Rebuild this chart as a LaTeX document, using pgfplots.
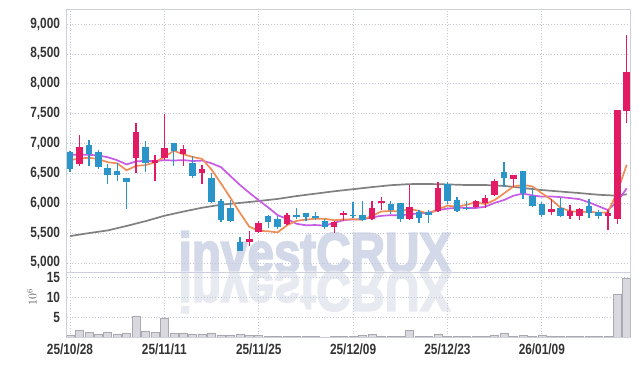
\documentclass[border=0pt]{standalone}
\usepackage{fontspec}
\setmainfont{Liberation Sans}[FakeStretch=0.8]
\newfontfamily\wmfont{Liberation Sans Bold}[FakeBold=3.5]
\usepackage{graphicx}
\usepackage{pgfplots}
\usepackage{pgfplotstable}
\pgfplotsset{compat=1.18}
\definecolor{upc}{HTML}{E31B64}
\definecolor{dnc}{HTML}{2B94C9}
\definecolor{ma5c}{HTML}{F08C55}
\definecolor{ma10c}{HTML}{C65BE6}
\definecolor{ma60c}{HTML}{808080}
\definecolor{gridc}{HTML}{C4C7D6}
\definecolor{framec}{HTML}{CDD0DA}
\definecolor{wmc}{HTML}{D3D9E8}
\definecolor{wmr}{HTML}{E8EAF1}
\definecolor{volf}{HTML}{D8D8DE}
\definecolor{vold}{HTML}{A9A9B2}

\pgfplotstableread{
i o h l c
1 6650 7150 6630 6940
7 6760 7350 6500 7190
9 6680 6815 6370 6720
10 6750 7500 6730 6920
12 6830 6980 6630 6900
14 6505 6635 6325 6565
19 5350 5530 5280 5400
20 5515 5700 5500 5670
23 5645 5835 5630 5795
28 5600 5700 5505 5680
29 5795 5870 5695 5835
32 5740 6045 5725 5925
33 6000 6100 5880 6045
36 5735 6300 5725 5945
39 5870 6355 5850 6260
43 5945 6060 5925 6030
44 6000 6140 5925 6090
45 6130 6400 6115 6380
47 6410 6475 6270 6470
51 5855 6070 5795 5900
53 5790 5965 5735 5870
54 5790 5920 5725 5905
57 5790 5880 5550 5840
58 5730 7560 5650 7560
59 7550 8815 7340 8195
}\up

\pgfplotstableread{
i o h l c
0 6850 6870 6530 6570
2 6970 7050 6630 6830
3 6860 6890 6565 6610
4 6590 6650 6330 6480
5 6540 6680 6380 6480
6 6420 6430 5910 6360
8 6935 7040 6515 6680
11 7000 7010 6630 6880
13 6670 6785 6425 6450
15 6415 6510 6005 6020
16 6045 6075 5685 5720
17 5920 6050 5685 5700
18 5350 5440 5195 5200
21 5780 5795 5590 5680
22 5735 5785 5570 5610
24 5810 5925 5735 5770
25 5830 5835 5700 5770
26 5785 5850 5720 5760
27 5710 5740 5570 5600
30 5810 6020 5755 5780
31 5795 6045 5710 5725
34 5990 6030 5825 5880
35 6005 6010 5680 5735
37 5850 5880 5670 5750
38 5850 5880 5670 5805
40 6325 6355 5980 6030
41 6060 6100 5860 5870
42 5925 6045 5890 5900
46 6525 6685 6280 6430
48 6540 6540 6070 6165
49 6120 6260 5945 5960
50 5985 6025 5765 5810
52 5915 6080 5765 5790
55 5955 6065 5745 5840
56 5855 5885 5735 5790
}\down

\pgfplotstableread{
i ma5 ma10
0 6720 6810
1 6750 6810
2 6760 6810
3 6740 6800
4 6686 6770
5 6668 6720
6 6552 6650
7 6624 6700
8 6638 6710
9 6686 6705
10 6774 6721
11 6878 6715
12 6820 6722
13 6774 6706
14 6743 6714
15 6563 6668
16 6331 6604
17 6091 6455
18 5841 6307
19 5608 6175
20 5538 6050
21 5530 5930
22 5512 5801
23 5631 5736
24 5705 5656
25 5725 5631
26 5741 5635
27 5739 5625
28 5716 5673
29 5729 5717
30 5731 5728
31 5724 5732
32 5789 5764
33 5862 5789
34 5871 5800
35 5862 5796
36 5906 5815
37 5871 5830
38 5823 5842
39 5899 5885
40 5958 5910
41 5943 5924
42 5973 5922
43 6018 5920
44 5984 5941
45 6054 6006
46 6166 6054
47 6280 6126
48 6307 6162
49 6281 6132
50 6167 6110
51 6061 6113
52 5925 6102
53 5866 6086
54 5855 6068
55 5861 6014
56 5839 5950
57 5849 5887
58 6187 6026
59 6645 6250
}\ma

\pgfplotstableread{
i v
0 5450
2 5500
4 5545
6 5620
8 5700
10 5790
12 5860
14 5925
16 5975
18 6005
20 6037
22 6072
24 6120
26 6160
28 6200
30 6235
32 6270
34 6302
36 6320
38 6322
40 6315
42 6305
44 6305
46 6290
48 6255
50 6221
52 6195
54 6170
56 6142
58 6126
59 6150
}\maLong

\pgfplotstableread{
i v
0 0.4
1 1.75
2 1.1
3 0.75
4 1.25
5 0.75
6 1.0
7 5.25
8 1.5
9 1.1
10 4.75
11 0.85
12 1.0
13 0.75
14 0.75
15 1.0
16 0.5
17 0.5
18 0.75
19 0.4
20 0.35
21 0.15
22 0.12
23 0.12
24 0.1
25 0.1
26 0.1
27 0.05
28 0.1
29 0.15
30 0.15
31 0.35
32 0.7
33 0.15
34 0.15
35 0.15
36 1.7
37 0.2
38 0.2
39 0.75
40 0.2
41 0.15
42 0.15
43 0.15
44 0.2
45 0.4
46 1.0
47 0.2
48 0.4
49 0.2
50 0.5
51 0.15
52 0.15
53 0.12
54 0.12
55 0.12
56 0.12
57 0.15
58 10.75
59 14.7
}\vol

\begin{document}
\begin{tikzpicture}
\useasboundingbox (0bp,0bp) rectangle (639bp,366bp);
% watermark
\node[anchor=base west, inner sep=0pt, text=wmc] at (178.5bp,94bp)
  {\scalebox{0.85}[1]{\fontsize{56bp}{56bp}\wmfont investCRUX}};
\node[anchor=base west, inner sep=0pt, text=wmr] at (178.5bp,94bp)
  {\scalebox{0.85}[-1]{\fontsize{56bp}{56bp}\wmfont investCRUX}};

\pgfplotsset{
  chartbase/.style={
    scale only axis,
    width=564bp,
    xmin=-0.35, xmax=59.42,
    axis line style={draw=framec, line width=0.8bp},
    major tick length=0pt,
    grid=major,
    major grid style={draw=gridc, line width=0.7bp, dash pattern=on 0.8bp off 2bp},
    xtick={0,10,20,30,40,50},
    tick label style={font=\fontsize{14.8bp}{16bp}\selectfont\bfseries, text=black!80},
    yticklabel style={anchor=east, inner sep=0pt, xshift=-6.5bp},
    clip=true,
  },
  candle/.style 2 args={draw=none, no marks, forget plot,
    error bars/.cd, y dir=plus, y explicit, error mark=none,
    error bar style={line width=#2, draw=#1, solid}},
}

\begin{axis}[chartbase,
  at={(66.7bp,94bp)}, anchor=south west,
  height=263bp,
  ymin=4849, ymax=9251,
  ytick={5000,5500,6000,6500,7000,7500,8000,8500,9000},
  yticklabels={{5,000},{5,500},{6,000},{6,500},{7,000},{7,500},{8,000},{8,500},{9,000}},
  xticklabels={},
]
% moving averages
\addplot[ma60c, line width=1.7bp, mark=none] table[x=i, y=v] {\maLong};
\addplot[ma10c, line width=1.7bp, mark=none] table[x=i, y=ma10] {\ma};
\addplot[ma5c, line width=1.7bp, mark=none] table[x=i, y=ma5] {\ma};
% wicks
\addplot[candle={upc}{1.3bp}]
  table[x=i, y=l, y error plus expr=\thisrow{h}-\thisrow{l}] {\up};
\addplot[candle={dnc}{1.3bp}]
  table[x=i, y=l, y error plus expr=\thisrow{h}-\thisrow{l}] {\down};
% bodies
\addplot[candle={upc}{6.5bp}]
  table[x=i, y=o, y error plus expr=\thisrow{c}-\thisrow{o}] {\up};
\addplot[candle={dnc}{6.5bp}]
  table[x=i, y=c, y error plus expr=\thisrow{o}-\thisrow{c}] {\down};
\end{axis}

\begin{axis}[chartbase,
  at={(66.7bp,29bp)}, anchor=south west,
  height=65bp,
  ymin=0, ymax=16.25,
  ytick={5,10,15},
  yticklabels={5,10,15},
  xticklabels={25/10/28,25/11/11,25/11/25,25/12/09,25/12/23,26/01/09},
  xticklabel style={anchor=north, inner sep=0pt, yshift=-7bp},
  ybar, bar width=8bp,
]
\addplot[fill=volf, draw=vold, line width=0.5bp] table[x=i, y=v] {\vol};
\end{axis}

\node[rotate=90, text=black!65, inner sep=0pt] at (32bp,69bp) {\fontsize{12bp}{12bp}\selectfont $10^{6}$};
\end{tikzpicture}
\end{document}
